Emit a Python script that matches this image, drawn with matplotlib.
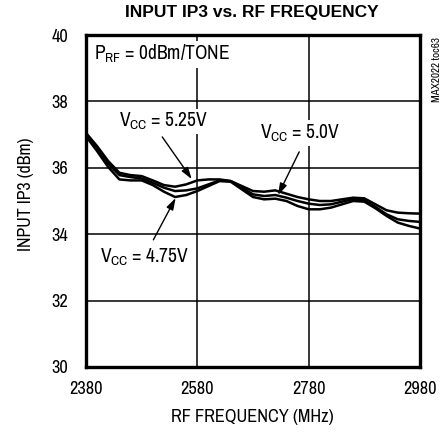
import matplotlib
matplotlib.use("Agg")
import matplotlib.pyplot as plt
from matplotlib import font_manager as fm

FONT = "Liberation Sans"
STRETCH = "normal"
cands = []
for f in fm.fontManager.ttflist:
    if f.style != 'normal':
        continue
    if 'Narrow' in f.name or 'Condensed' in f.name:
        cands.append((0 if 'Narrow' in f.name else 1, f.name, f.stretch))
    elif f.stretch in ('condensed', 'semi-condensed') and 'Sans' in f.name and 'Mono' not in f.name:
        cands.append((2, f.name, f.stretch))
if cands:
    cands.sort()
    FONT, STRETCH = cands[0][1], cands[0][2]
NARROW = FONT != "Liberation Sans"

plt.rcParams['font.family'] = [FONT, 'DejaVu Sans']
plt.rcParams['font.stretch'] = STRETCH
plt.rcParams['mathtext.fontset'] = 'custom'
plt.rcParams['mathtext.rm'] = FONT
plt.rcParams['mathtext.it'] = FONT
plt.rcParams['mathtext.bf'] = FONT

freq = [2380, 2400, 2420, 2440, 2460, 2480, 2500, 2520, 2540, 2560, 2580,
        2600, 2620, 2640, 2660, 2680, 2700, 2720, 2740, 2760, 2780,
        2800, 2820, 2840, 2860, 2880, 2900, 2920, 2940, 2960, 2980]
ip3_525 = [37.05, 36.65, 36.2, 35.85, 35.78, 35.75, 35.62, 35.48, 35.43, 35.5, 35.62,
           35.65, 35.65, 35.6, 35.45, 35.3, 35.28, 35.32, 35.22, 35.12, 35.05,
           35.0, 35.0, 35.05, 35.1, 35.08, 34.9, 34.72, 34.65, 34.63, 34.62]
ip3_500 = [37.0, 36.6, 36.12, 35.78, 35.72, 35.68, 35.55, 35.4, 35.3, 35.32, 35.38,
           35.5, 35.62, 35.6, 35.4, 35.2, 35.15, 35.18, 35.1, 35.0, 34.92,
           34.88, 34.9, 34.98, 35.06, 35.02, 34.82, 34.6, 34.45, 34.4, 34.37]
ip3_475 = [36.95, 36.5, 36.02, 35.65, 35.62, 35.62, 35.48, 35.28, 35.12, 35.18, 35.3,
           35.45, 35.6, 35.58, 35.35, 35.12, 35.05, 35.07, 35.0, 34.85, 34.75,
           34.75, 34.8, 34.9, 35.0, 34.98, 34.78, 34.55, 34.35, 34.25, 34.17]
xticks = [2380, 2580, 2780, 2980]
yticks = [30, 32, 34, 36, 38, 40]

if NARROW:
    fs_tick, fs_ann, fs_lab, fs_side = 13.2, 14, 13.2, 8
else:
    fs_tick, fs_ann, fs_lab, fs_side = 11, 11.5, 11, 7

fig = plt.figure(figsize=(4.45, 4.41), dpi=100)
ax = fig.add_axes([86/445, 1-367/441, 334/445, 332/441])

for y in ip3_525, ip3_500, ip3_475:
    ax.plot(freq, y, color='black', lw=1.8, solid_capstyle='butt', zorder=3)

ax.set_xlim(2380, 2980)
ax.set_ylim(30, 40)
ax.set_xticks(xticks)
ax.set_yticks(yticks)
ax.tick_params(length=0, labelsize=fs_tick)
ax.tick_params(axis='x', pad=10)
ax.tick_params(axis='y', pad=13)
ax.grid(True, color='black', lw=1.1)
ax.set_axisbelow(True)
for s in ax.spines.values():
    s.set_linewidth(2.4)
    s.set_zorder(5)

bb = dict(facecolor='white', edgecolor='none', pad=1.5)
ax.text(2395, 39.42, r"P$_{\rm RF}$ = 0dBm/TONE", fontsize=fs_ann, va='center', ha='left',
        bbox=bb, zorder=4)

ap = dict(arrowstyle='-|>,head_length=0.7,head_width=0.22', color='black', lw=1.0,
          shrinkA=0, shrinkB=0)
ax.text(2440, 37.4, r"V$_{\rm CC}$ = 5.25V", fontsize=fs_ann, va='center', ha='left',
        bbox=bb, zorder=4)
ax.annotate("", xy=(2570, 35.66), xytext=(2517, 36.93), arrowprops=ap, zorder=4)
ax.text(2693, 37.05, r"V$_{\rm CC}$ = 5.0V", fontsize=fs_ann, va='center', ha='left',
        bbox=bb, zorder=4)
ax.annotate("", xy=(2725, 35.18), xytext=(2763, 36.48), arrowprops=ap, zorder=4)
ax.text(2405, 33.3, r"V$_{\rm CC}$ = 4.75V", fontsize=fs_ann, va='center', ha='left',
        bbox=bb, zorder=4)
ax.annotate("", xy=(2541, 35.09), xytext=(2501, 33.83), arrowprops=ap, zorder=4)

fig.text(252/445, 1-13/441, "INPUT IP3 vs. RF FREQUENCY", fontsize=12.5,
         family=['Liberation Sans', 'DejaVu Sans'], stretch='normal',
         fontweight='bold', ha='center', va='center')
fig.text(252/445, 1-417/441, "RF FREQUENCY (MHz)", fontsize=fs_lab, ha='center', va='center')
fig.text(26/445, 1-194/441, "INPUT IP3 (dBm)", fontsize=fs_lab - 0.4, ha='center', va='center',
         rotation=90)
fig.text(437/445, 1-69/441, "MAX2022 toc63", fontsize=fs_side,
         ha='center', va='center', rotation=90)

fig.savefig("out.png", dpi=100)
